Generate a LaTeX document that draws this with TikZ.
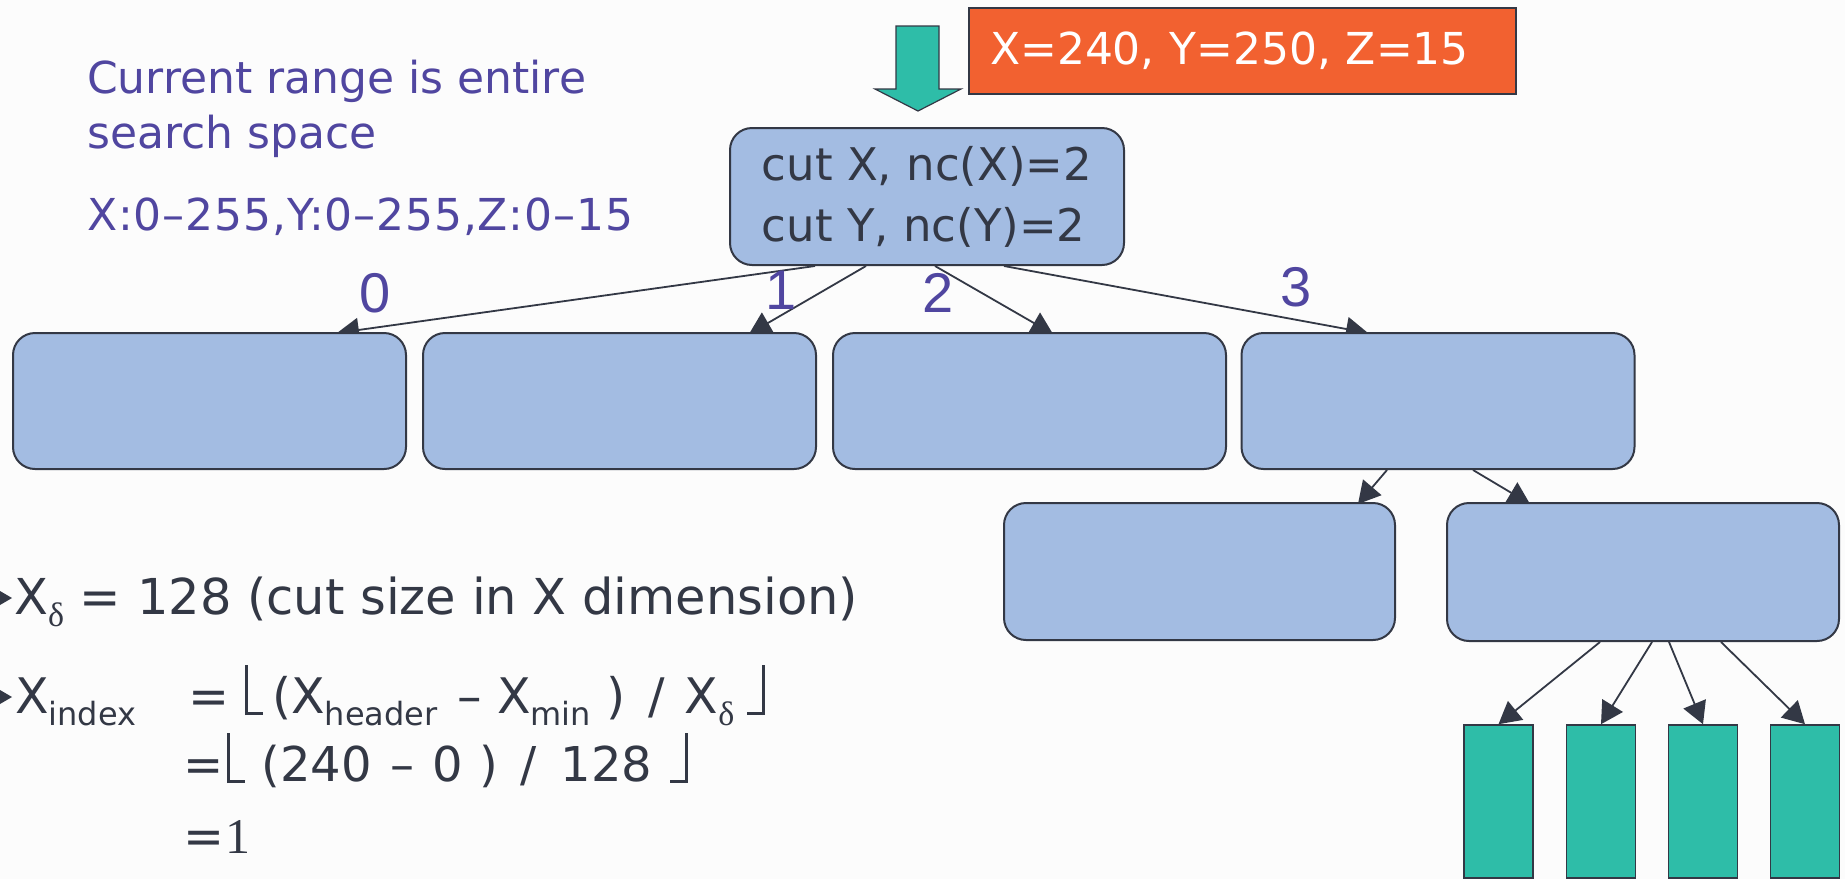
\documentclass[tikz,border=0pt]{standalone}
\usepackage{fontspec}
\setmainfont{DejaVu Sans}
\newfontfamily\arialf{Liberation Sans}
\newfontfamily\timesf{Liberation Serif}
\usetikzlibrary{arrows.meta}
\definecolor{nodeblue}{RGB}{163,188,226}
\definecolor{edgedark}{RGB}{51,56,69}
\definecolor{leafteal}{RGB}{46,189,168}
\definecolor{orangebox}{RGB}{242,97,48}
\definecolor{purpletext}{RGB}{80,70,160}
\definecolor{bgcol}{RGB}{252,252,252}
\newcommand{\fs}[1]{\fontsize{#1}{#1}\selectfont}
\newcommand{\sbs}[1]{\raisebox{-12pt}{\fs{32}#1}}
\newcommand{\sbd}{\raisebox{-12pt}{\timesf\fs{34}δ}}
\newcommand{\lfl}{\rule[-2pt]{3pt}{50pt}\rule[-2pt]{15pt}{3pt}}
\newcommand{\rfl}{\rule[-2pt]{15pt}{3pt}\rule[-2pt]{3pt}{50pt}}
\newcommand{\hs}[1]{\hspace*{#1pt}}
\pgfdeclarelayer{bgl}
\pgfdeclarelayer{edgel}
\pgfsetlayers{bgl,edgel,main}
\begin{document}
\begin{tikzpicture}[x=1pt,y=-1pt,
  tnode/.style={draw=edgedark, line width=2pt, fill=nodeblue, rounded corners=22pt, minimum width=393pt, minimum height=136pt, inner sep=0pt},
  leaf/.style={draw=edgedark, line width=1.6pt, fill=leafteal, minimum width=69pt, minimum height=153pt, inner sep=0pt},
  edge/.style={draw=edgedark, line width=1.8pt, -{Triangle[length=22pt,width=24pt]}},
  lbl/.style={text=purpletext, font=\arialf\fs{56}, inner sep=0pt},
  ptext/.style={text=purpletext, font=\fs{44}, inner sep=0pt, anchor=base west},
  dtext/.style={text=edgedark, font=\fs{49}, inner sep=0pt, anchor=base west},
]
\begin{pgfonlayer}{bgl}
\fill[bgcol] (0,0) rectangle (1845,879);
\end{pgfonlayer}
\useasboundingbox (0,0) rectangle (1845,879);

% purple description
\node[ptext] (t1) at (87,93) {Current range is entire};
\node[ptext] (t2) at (87,148) {search space};
\node[ptext] (t3) at (87,230) {\addfontfeature{LetterSpace=2}X:0–255,Y:0–255,Z:0–15};

% input packet box
\node[draw=edgedark, line width=1.6pt, fill=orangebox, minimum width=547pt, minimum height=86pt, inner sep=21pt, text width=505pt, align=left, text=white, font=\fs{44}] (pkt) at (1242.5,51) {X=240, Y=250, Z=15};

% teal down arrow
\filldraw[fill=leafteal, draw=edgedark, line width=1.2pt] (896,26) -- (939,26) -- (939,89) -- (961,89) -- (918,111) -- (875,89) -- (896,89) -- cycle;

% tree nodes
\node[tnode, minimum width=394pt, minimum height=137pt, align=left, text=edgedark, font=\fontsize{45}{61}\selectfont] (root) at (927,196.5) {cut X, nc(X)=2\\cut Y, nc(Y)=2};
\node[tnode] (a0) at (209.5,401) {};
\node[tnode] (a1) at (619.5,401) {};
\node[tnode] (a2) at (1029.5,401) {};
\node[tnode] (a3) at (1438,401) {};
\node[tnode, minimum width=391pt, minimum height=137pt] (b0) at (1199.5,571.5) {};
\node[tnode, minimum width=392pt, minimum height=138pt] (b1) at (1643,572) {};
\node[leaf] (l0) at (1498.5,801.5) {};
\node[leaf] (l1) at (1601,801.5) {};
\node[leaf] (l2) at (1703,801.5) {};
\node[leaf] (l3) at (1805,801.5) {};

% edges (beneath the nodes)
\begin{pgfonlayer}{edgel}
\draw[edge] ([xshift=-112pt]root.south) -- ([xshift=127.5pt,yshift=-1pt]a0.north);
\draw[edge] ([xshift=-61pt]root.south) -- ([xshift=129.5pt,yshift=-2pt]a1.north);
\draw[edge] ([xshift=8pt]root.south) -- ([xshift=23.5pt,yshift=-2pt]a2.north);
\draw[edge] ([xshift=77pt]root.south) -- ([xshift=-70pt,yshift=-1pt]a3.north);
\draw[edge] ([xshift=-51pt]a3.south) -- ([xshift=158.5pt,yshift=-2pt]b0.north);
\draw[edge] ([xshift=35pt]a3.south) -- ([xshift=-113pt,yshift=-2pt]b1.north);
\draw[edge] ([xshift=-43pt]b1.south) -- (l0.north);
\draw[edge] ([xshift=9pt]b1.south) -- (l1.north);
\draw[edge] ([xshift=26pt]b1.south) -- (l2.north);
\draw[edge] ([xshift=78pt]b1.south) -- (l3.north);
\end{pgfonlayer}

% edge labels
\node[lbl] (n0) at (375,293) {0};
\node[lbl] (n1) at (781,290) {1};
\node[lbl] (n2) at (938,293) {2};
\node[lbl] (n3) at (1296,287) {3};

% bullets
\fill[edgedark] (0,591) -- (12,598) -- (0,605) -- cycle;
\fill[edgedark] (0,690) -- (12,697) -- (0,704) -- cycle;

% formulas
\node[dtext, font=\fs{49.5}] (f1) at (14,614) {X\sbd\ = 128 (cut size in X dimension)};
\node[dtext] (f2) at (15,713) {X\sbs{index}};
\node[dtext] (f3) at (188,713) {=\hs{16}\lfl\hs{9}(X\sbs{header}\hs{20}–\hs{15}X\sbs{min}\hs{15})\hs{23}/\hs{20}X\sbd\hs{13}\rfl};
\node[dtext, font=\fs{48}] (f4) at (183,781) {=\hs{4}\lfl\hs{16}(240\hs{19}–\hs{17.5}0\hs{17})\hs{22}/\hs{24}128\hs{18}\rfl};
\node[dtext] (f5) at (183,853) {=\hs{1}{\timesf\fs{50}1}};
\end{tikzpicture}
\end{document}
